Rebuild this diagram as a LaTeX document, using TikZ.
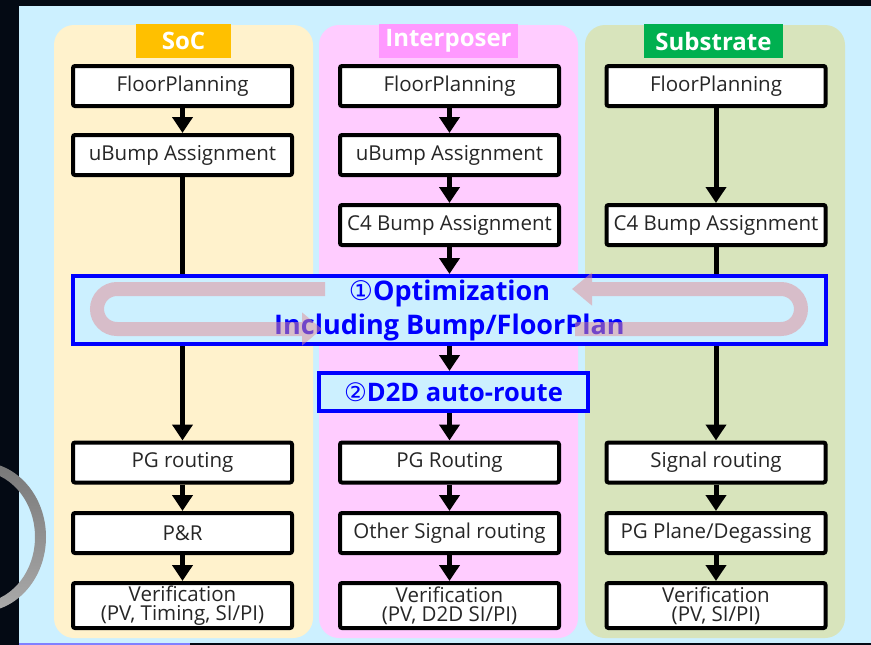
\documentclass[tikz,border=0pt]{standalone}
\usepackage{fontspec}
\setmainfont{Open Sans}
\newfontfamily\symfont{DejaVu Sans}
\usetikzlibrary{arrows.meta}
\definecolor{night}{RGB}{4,10,20}
\definecolor{panel}{RGB}{204,240,255}
\definecolor{socbg}{RGB}{255,242,204}
\definecolor{intbg}{RGB}{255,204,255}
\definecolor{subbg}{RGB}{216,228,188}
\definecolor{soctag}{RGB}{255,192,0}
\definecolor{inttag}{RGB}{255,153,255}
\definecolor{subtag}{RGB}{0,176,80}
\definecolor{boxtext}{RGB}{38,38,38}
\definecolor{loopcol}{RGB}{226,140,148}
\definecolor{ringtop}{RGB}{120,120,120}
\definecolor{ringbot}{RGB}{170,170,170}
\definecolor{lav}{RGB}{128,128,255}

\begin{document}
\begin{tikzpicture}[x=1pt,y=-1pt,
  stepbox/.style={draw=black,line width=4pt,fill=white,rounded corners=2pt,minimum width=219pt,minimum height=40pt,inner sep=0pt,text=boxtext,font=\fontsize{20.5}{19}\selectfont,align=center},
  verbox/.style={stepbox,minimum height=45pt},
  tag/.style={minimum width=95pt,minimum height=34pt,inner sep=0pt,text=white,font=\bfseries\fontsize{24}{28}\selectfont},
  column/.style={rounded corners=20pt},
  bluebox/.style={draw=blue,line width=4pt,fill=panel,inner sep=0pt,text=blue,font=\bfseries\fontsize{27}{34}\selectfont,align=center},
  arr/.style={line width=5pt,-{Triangle[width=20pt,length=16pt]}},
  loopy/.style={draw=loopcol,line width=14pt}]
                \useasboundingbox (0,0) rectangle (871,645);
                \fill[night] (0,0) rectangle (871,645);
                \fill[panel] (19,6) rectangle (871,643);
                \draw[lav,line width=2pt] (19,644) -- (190,644);
                \shade[top color=ringtop,bottom color=ringbot,even odd rule] (-20,537) ellipse [x radius=66pt,y radius=75pt] (-22,537) ellipse [x radius=57pt,y radius=66pt];
                \fill[socbg,column] (54,25) rectangle (313,638);
                \fill[intbg,column] (319,25) rectangle (578,638);
                \fill[subbg,column] (585,25) rectangle (845,638);
                \node[tag,fill=soctag] (soc) at (183.5,41) {SoC};
                \node[tag,fill=inttag,minimum width=139pt] (int) at (448.5,41) {Interposer};
                \node[tag,fill=subtag,minimum width=139pt] (sub) at (713.5,41) {Substrate};
                \node[stepbox] (fp1) at (182.5,86) {FloorPlanning};
                \node[stepbox] (ub1) at (182.5,155) {uBump Assignment};
                \node[stepbox] (pg1) at (182.5,462.5) {PG routing};
                \node[stepbox] (pr1) at (182.5,533) {P\&R};
                \node[verbox] (ver1) at (182.5,605.5) {Verification\\(PV, Timing, SI/PI)};
                \node[stepbox] (fp2) at (449.5,86) {FloorPlanning};
                \node[stepbox] (ub2) at (449.5,155) {uBump Assignment};
                \node[stepbox] (c42) at (449.5,225) {C4 Bump Assignment};
                \node[stepbox] (pg2) at (449.5,462.5) {PG Routing};
                \node[stepbox] (os2) at (449.5,533) {Other Signal routing};
                \node[verbox] (ver2) at (449.5,605.5) {Verification\\(PV, D2D SI/PI)};
                \node[stepbox] (fp3) at (716,86) {FloorPlanning};
                \node[stepbox] (c43) at (716,225) {C4 Bump Assignment};
                \node[stepbox] (sr3) at (716,462.5) {Signal routing};
                \node[stepbox] (pp3) at (716,533) {PG Plane/Degassing};
                \node[verbox] (ver3) at (716,605.5) {Verification\\(PV, SI/PI)};
                \draw[arr] (fp1) -- (ub1);
                \draw[arr] (ub1) -- (pg1);
                \draw[arr] (pg1) -- (pr1);
                \draw[arr] (pr1) -- (ver1);
                \draw[arr] (fp2) -- (ub2);
                \draw[arr] (ub2) -- (c42);
                \draw[arr] (pg2) -- (os2);
                \draw[arr] (os2) -- (ver2);
                \draw[arr] (fp3) -- (c43);
                \draw[arr] (c43) -- (sr3);
                \draw[arr] (sr3) -- (pp3);
                \draw[arr] (pp3) -- (ver3);
                \node[bluebox,minimum width=753pt,minimum height=68pt] (opt) at (449.5,310) {{\symfont\mdseries ①}Optimization\\Including Bump/FloorPlan};
                \node[bluebox,minimum width=269pt,minimum height=38pt,font=\bfseries\fontsize{25.5}{30}\selectfont] (d2d) at (453.5,392) {{\symfont\mdseries ②}D2D auto-route};
                \draw[arr] (c42) -- (c42 |- opt.north);
                \draw[arr] (c42 |- opt.south) -- (c42 |- d2d.north);
                \draw[arr] (c42 |- d2d.south) -- (pg2);
                \begin{scope}[transparency group,opacity=0.5]
                \draw[loopy,-{Triangle[width=32pt,length=20pt]}] (325,289) -- (117,289) arc[start angle=90,end angle=270,radius=20pt] -- (322,329);
                \draw[loopy,{Triangle[width=32pt,length=20pt]}-] (572,289) -- (781,289) arc[start angle=90,end angle=-90,radius=20pt] -- (575,329);
                \end{scope}
            \end{tikzpicture}
\end{document}
